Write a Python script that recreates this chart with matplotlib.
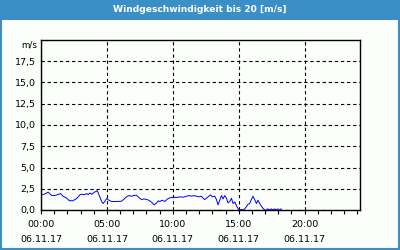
import matplotlib
matplotlib.use("Agg")
import matplotlib.pyplot as plt
from matplotlib.patches import Rectangle

title = "Windgeschwindigkeit bis 20 [m/s]"
unit_label = "m/s"
date_label = "06.11.17"

hours = [0, 0.13, 0.3, 0.55, 0.81, 1.06, 1.23, 1.49, 1.69, 1.95, 2.14, 2.4, 2.58, 2.75,
         2.95, 3.13, 3.28, 3.46, 3.58, 3.71, 3.86, 4.04, 4.17, 4.27, 4.42, 4.6, 4.72,
         4.87, 4.98, 5.15, 5.36, 5.73, 6.11, 6.31, 6.49, 6.67, 6.87, 7.07, 7.25, 7.45,
         7.63, 7.83, 8.01, 8.18, 8.39, 8.58, 8.77, 8.89, 9.02, 9.19, 9.39, 9.6, 9.77,
         10.02, 10.28, 10.53, 10.78, 11.04, 11.23, 11.42, 11.59, 11.8, 11.99, 12.17,
         12.3, 12.42, 12.55, 12.73, 12.86, 13.01, 13.18, 13.31, 13.43, 13.56, 13.69,
         13.81, 13.94, 14.07, 14.19, 14.32, 14.45, 14.57, 14.7, 14.83, 14.95, 15.08,
         15.2, 15.33, 15.45, 15.58, 15.7, 15.83, 15.96, 16.08, 16.21, 16.34, 16.46,
         16.59, 16.72, 16.84, 16.97, 17.1, 17.22, 17.35, 17.48, 17.6, 17.73, 17.86,
         17.98, 18.11, 18.23]
wind = [1.78, 1.8, 1.9, 2.1, 1.7, 1.7, 1.8, 1.93, 1.6, 1.4, 1.1, 1.08, 1.23, 1.4,
        1.8, 1.85, 1.8, 1.93, 1.8, 2.0, 1.85, 2.1, 2.17, 2.28, 1.7, 1.0, 0.76,
        1.08, 1.35, 1.15, 1.0, 1.0, 1.03, 1.3, 1.55, 1.7, 1.62, 1.73, 1.73, 1.43,
        1.23, 1.3, 1.23, 1.15, 0.92, 0.6, 0.84, 1.08, 1.0, 1.15, 1.0, 1.3, 1.43,
        1.5, 1.47, 1.55, 1.5, 1.62, 1.7, 1.62, 1.7, 1.62, 1.55, 1.62,
        1.38, 1.23, 1.38, 1.62, 1.78, 1.55, 1.62, 1.23, 0.6, 1.15, 1.7,
        1.3, 1.7, 1.38, 0.84, 1.0, 1.38, 0.76, 0.95, 0.5, 0.17, 0.0,
        0.06, 0.0, 0.14, 0.37, 0.68, 0.76, 1.23, 1.62, 1.23, 0.76, 1.15,
        0.76, 0.45, 0.2, 0.0, 0.0, 0.14, 0.0, 0.14, 0.0, 0.14, 0.0,
        0.14, 0.0, 0.14]

yticks = [0, 2.5, 5, 7.5, 10, 12.5, 15, 17.5]
ytick_labels = ["0,0", "2,5", "5,0", "7,5", "10,0", "12,5", "15,0", "17,5"]
xticks = [0, 5, 10, 15, 20]
xtick_labels = ["00:00", "05:00", "10:00", "15:00", "20:00"]

blue = "#3b8fc7"
bg = "#fbfefb"

fig = plt.figure(figsize=(4, 2.5), dpi=100, facecolor=bg)
ax = fig.add_axes([41/400, 1-210/250, (360-41)/400, 170/250])
ax.set_facecolor(bg)
ax.plot(hours, wind, color="#0000ff", lw=0.7)
ax.set_xlim(0, 24.2)
ax.set_ylim(0, 20)

ax.set_yticks(yticks)
ax.set_yticklabels(ytick_labels)
ax.set_xticks(xticks)
ax.set_xticklabels([f"{t}\n{date_label}" for t in xtick_labels], linespacing=1.9)
ax.set_xticks(range(0, 25), minor=True)
ax.tick_params(axis="y", length=0, pad=4, labelsize=6.8)
ax.tick_params(axis="x", which="both", length=3, width=0.8, direction="out", pad=4, labelsize=6.8)
for s in ax.spines.values():
    s.set_color("black")
    s.set_linewidth(1.0)
ax.grid(True, color="black", linestyle=(0, (3, 2.5)), linewidth=0.8)
ax.set_axisbelow(True)

ax.text(-0.012, 0.972, unit_label, transform=ax.transAxes, ha="right", va="center", fontsize=6.3)

# title bar and frame
fig.patches.append(Rectangle((0, 1-20/250), 1, 20/250, transform=fig.transFigure,
                             facecolor=blue, edgecolor="none", zorder=0))
fig.patches.append(Rectangle((0.002, 0.004), 0.995, 0.994, transform=fig.transFigure,
                             facecolor="none", edgecolor=blue, linewidth=1.5, zorder=5))
fig.text(0.5, 1-10/250, title, ha="center", va="center", color="white",
         fontsize=6.6, fontweight="bold")

fig.savefig("out.png", dpi=100, facecolor=bg)
